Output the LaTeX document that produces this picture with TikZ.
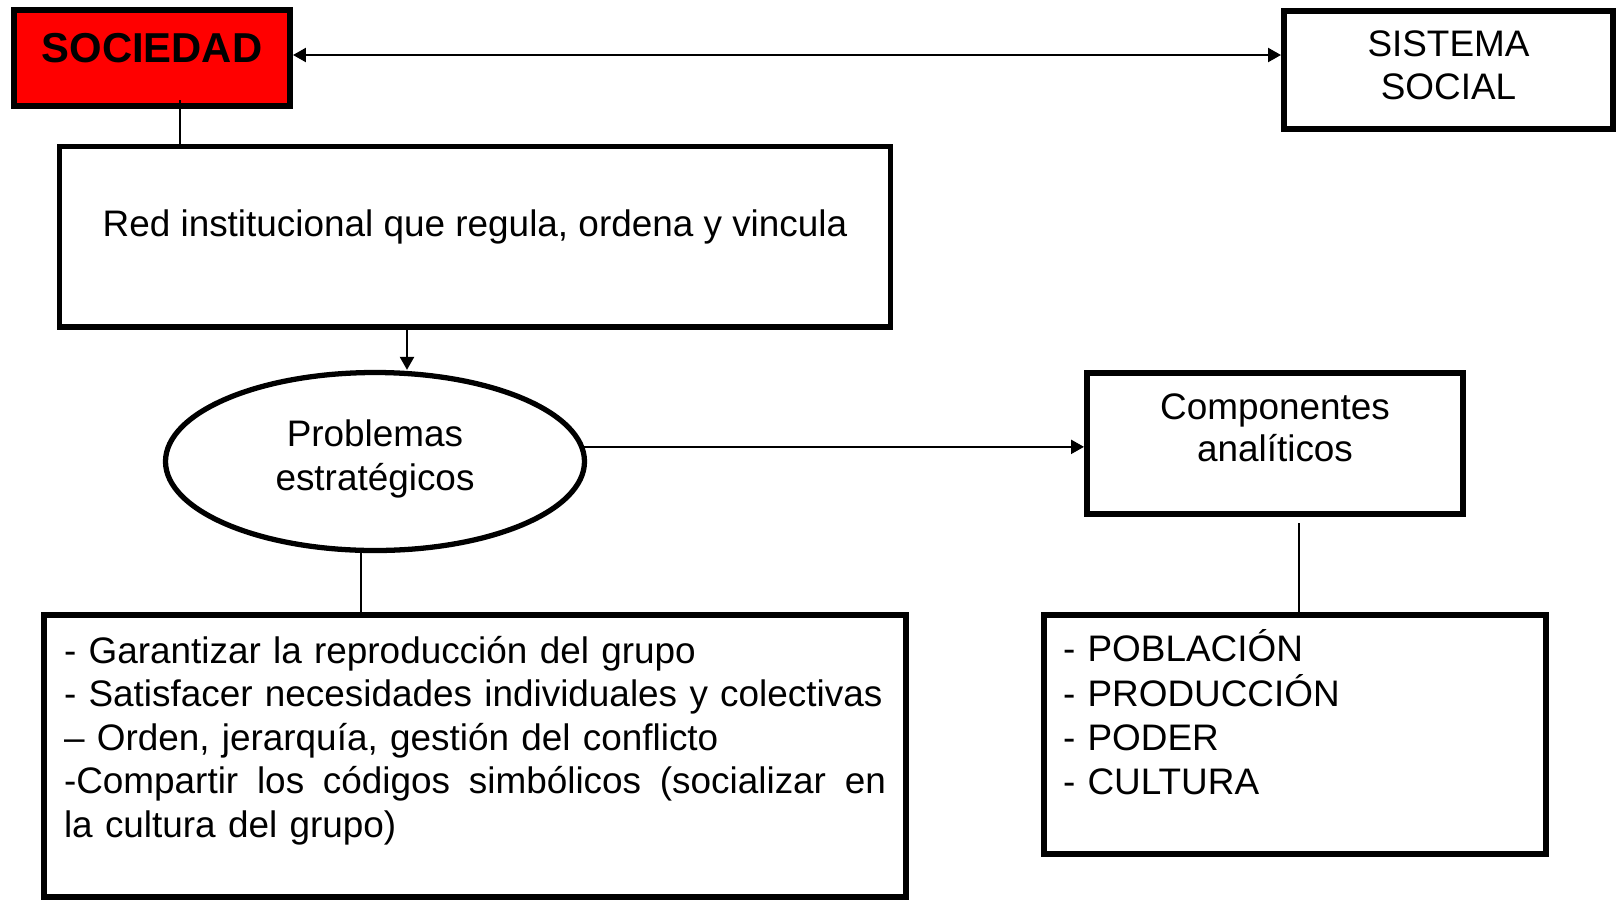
\documentclass[tikz,border=0pt]{standalone}
\usepackage{fontspec}
\setmainfont{Liberation Sans}
\usetikzlibrary{shapes.geometric}
\usetikzlibrary{arrows.meta}

\tikzset{
  box/.style={draw=black, line width=1.7pt, rectangle, inner sep=0.5mm, font=\fontsize{10.5}{12.5}\selectfont},
  link/.style={black, line width=0.65pt},
  onearrow/.style={-{Triangle[length=1.3mm,width=1.4mm]}},
  twoarrow/.style={{Triangle[length=1.3mm,width=1.4mm]}-{Triangle[length=1.3mm,width=1.4mm]}},
}

\begin{document}
\begin{tikzpicture}[x=0.1mm, y=-0.1mm]
\useasboundingbox (0,0) rectangle (1617,902);

% top row
\node[box, fill=red, minimum width=27.6mm, minimum height=9.57mm, font=\fontsize{11.9}{14}\selectfont\bfseries, text height=3.2mm, text depth=2.38mm] (soc) at (152,58.2) {SOCIEDAD};
\node[box, align=center, minimum width=32.9mm, minimum height=11.83mm, font=\fontsize{10.5}{12.04}\selectfont, text height=6.9mm, text depth=1.08mm] (sis) at (1448.5,69.9) {SISTEMA\\SOCIAL};

\node[box, minimum width=83.1mm, minimum height=18.05mm, text height=2.8mm, text depth=2.8mm] (redinst) at (475,236.75) {Red institucional que regula, ordena y vincula};

% middle row
\node[ellipse, draw=black, line width=1.5pt, minimum width=41.9mm, minimum height=17.8mm, inner sep=0.5mm, align=center, font=\fontsize{10.5}{12.52}\selectfont, text height=7mm, text depth=1.3mm] (prob) at (375,461.5) {Problemas\\estratégicos};
\node[box, align=center, minimum width=37.6mm, minimum height=14.07mm, font=\fontsize{10.5}{11.87}\selectfont, text height=6.8mm, text depth=3.14mm] (comp) at (1275,443.4) {Componentes\\analíticos};

% bottom row
\node[box, align=left, text width=82.2mm, inner xsep=2mm, minimum width=86.2mm, minimum height=28.2mm, font=\fontsize{10.5}{12.37}\selectfont, text height=2.6mm, text depth=21.14mm] (tareas) at (475,756)
{- Garantizar la reproducción del grupo\\
- Satisfacer necesidades individuales y colectivas\\
– Orden, jerarquía, gestión del conflicto\\
\makebox[82.2mm][l]{-Compartir\hfill los\hfill códigos\hfill simbólicos\hfill (socializar\hfill en}\\
la cultura del grupo)};
\node[box, align=left, text width=46.4mm, inner xsep=1.9mm, minimum width=50.2mm, minimum height=23.9mm, font=\fontsize{10.5}{12.63}\selectfont, text height=2.6mm, text depth=17.16mm] (comps) at (1295,734.5)
{- POBLACIÓN\\- PRODUCCIÓN\\- PODER\\- CULTURA};

% connectors
\draw[link, twoarrow] ([yshift=0.32mm]soc.east) -- ([yshift=0.32mm]soc.east -| sis.west);
\draw[link] ([shift={(2.8mm,0.9mm)}]soc.south) -- ([xshift=2.8mm]soc.south |- redinst.north);
\draw[link, onearrow] ([xshift=3.2mm]prob.north |- redinst.south) -- ([xshift=3.2mm]prob.north);
\draw[link, onearrow] (prob.4) -- (prob.4 -| comp.west);
\draw[link] ([xshift=-1.4mm]prob.south) -- ([xshift=-1.4mm]prob.south |- tareas.north);
\draw[link] ([shift={(2.4mm,-0.65mm)}]comp.south) -- ([xshift=2.4mm]comp.south |- comps.north);

\end{tikzpicture}
\end{document}
